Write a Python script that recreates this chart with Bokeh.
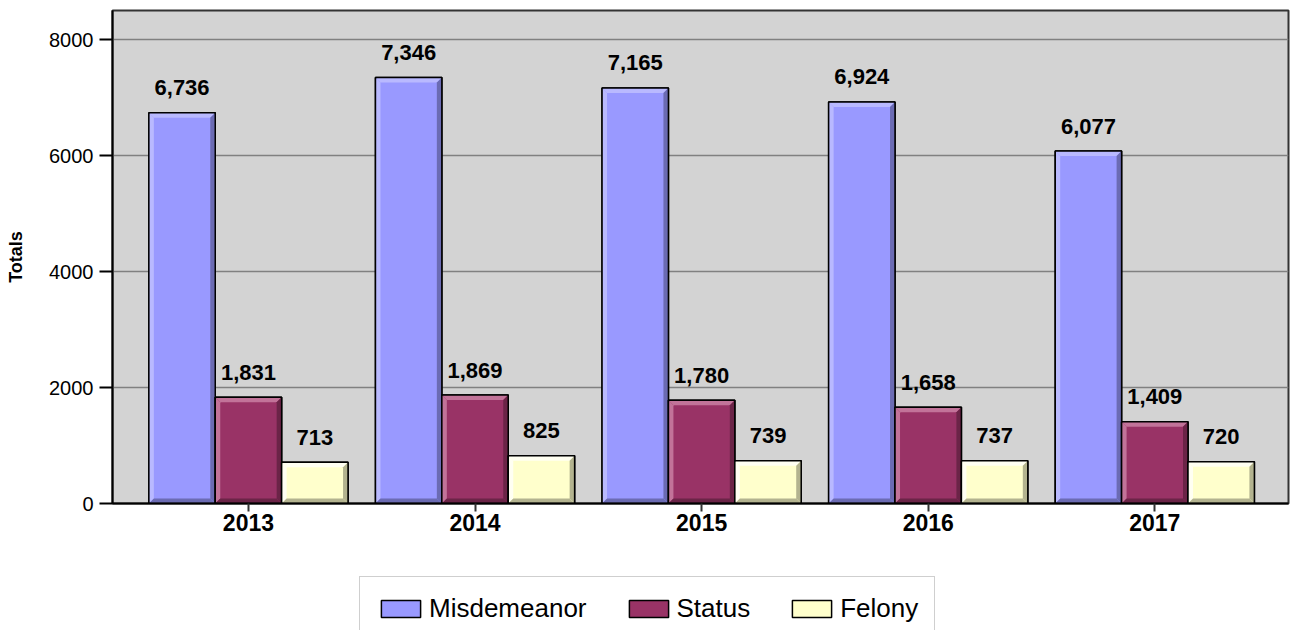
from bokeh.plotting import figure
from bokeh.layouts import column
from bokeh.models import (Range1d, FixedTicker, Legend, LegendItem, ColumnDataSource)
from bokeh.core.properties import value
from bokeh.embed import file_html
from bokeh.resources import INLINE

# ---- data ----
years = ["2013", "2014", "2015", "2016", "2017"]
misdemeanor = [6736, 7346, 7165, 6924, 6077]
status = [1831, 1869, 1780, 1658, 1409]
felony = [713, 825, 739, 737, 720]
series_names = ["Misdemeanor", "Status", "Felony"]
series_values = [misdemeanor, status, felony]
y_ticks = [0, 2000, 4000, 6000, 8000]

# ---- styles ----
colors = ["#9999FF", "#993366", "#FFFFCC"]
light = ["#B9B9FF", "#C27399", "#FFFFF2"]
dark = ["#6B6BB3", "#6B2447", "#B3B38F"]
FONT = "Liberation Sans"

W = 1290
H1, H2 = 575, 55
ML, MR, MT = 112, 2, 10
FW = W - ML - MR
FH = 493
MB = H1 - MT - FH
X0, X1 = -0.6, 4.59
Y0, Y1 = 0, 8500
bw = 0.293
offsets = [-bw, 0.0, bw]
bev = 5
dx = bev * (X1 - X0) / FW
dy = bev * (Y1 - Y0) / FH

p = figure(width=W, height=H1, output_backend="svg", toolbar_location=None,
           x_range=Range1d(X0, X1), y_range=Range1d(Y0, Y1),
           min_border_left=ML, min_border_right=MR, min_border_top=MT,
           min_border_bottom=MB)
p.background_fill_color = "#D3D3D3"
p.border_fill_color = "white"
p.outline_line_color = "#333333"
p.outline_line_width = 2

p.xgrid.visible = False
p.ygrid.grid_line_color = "#808080"
p.ygrid.grid_line_width = 1.5
p.ygrid.ticker = FixedTicker(ticks=y_ticks)

# axes
p.yaxis.ticker = FixedTicker(ticks=y_ticks)
p.yaxis.axis_label = "Totals"
p.yaxis.axis_label_text_font = FONT
p.yaxis.axis_label_text_font_style = "bold"
p.yaxis.axis_label_text_font_size = "18px"
p.yaxis.axis_label_text_color = "black"
p.yaxis.axis_label_standoff = 20
p.yaxis.major_label_text_font = FONT
p.yaxis.major_label_text_font_size = "20px"
p.yaxis.major_label_text_color = "black"
p.yaxis.major_tick_out = 13
p.yaxis.major_tick_in = 0
p.yaxis.minor_tick_out = 0
p.yaxis.minor_tick_in = 0
p.yaxis.major_label_standoff = 6
p.yaxis.major_tick_line_color = "black"
p.yaxis.major_tick_line_width = 2
p.yaxis.axis_line_color = "black"
p.yaxis.axis_line_width = 2

p.xaxis.ticker = FixedTicker(ticks=list(range(len(years))))
p.xaxis.major_label_overrides = {i: y for i, y in enumerate(years)}
p.xaxis.major_label_text_font = FONT
p.xaxis.major_label_text_font_style = "bold"
p.xaxis.major_label_text_font_size = "23px"
p.xaxis.major_label_text_color = "black"
p.xaxis.major_tick_out = 8
p.xaxis.major_tick_in = 0
p.xaxis.minor_tick_out = 0
p.xaxis.minor_tick_in = 0
p.xaxis.major_label_standoff = 2
p.xaxis.major_tick_line_color = "#333333"
p.xaxis.major_tick_line_width = 2
p.xaxis.axis_line_color = "black"
p.xaxis.axis_line_width = 2

# ---- legend strip below the chart ----
p2 = figure(width=W, height=H2, output_backend="svg", toolbar_location=None,
            x_range=Range1d(0, 1), y_range=Range1d(0, 1),
            min_border=0, min_border_left=0, min_border_right=0,
            min_border_top=0, min_border_bottom=0)
p2.axis.visible = False
p2.grid.visible = False
p2.outline_line_color = None
p2.background_fill_color = "white"
p2.border_fill_color = "white"
items = []

for s, (name, vals) in enumerate(zip(series_names, series_values)):
    xs = [i + offsets[s] for i in range(len(years))]
    L = [x - bw / 2 for x in xs]
    R = [x + bw / 2 for x in xs]
    T = list(vals)
    B = [0] * len(vals)
    p.quad(left=L, right=R, top=T, bottom=B, fill_color=colors[s],
           line_color="black", line_width=1.5)
    top_x, top_y, left_x, left_y, right_x, right_y, bot_x, bot_y = ([] for _ in range(8))
    for l, r, t, b in zip(L, R, T, B):
        top_x.append([l, r, r - dx, l + dx]); top_y.append([t, t, t - dy, t - dy])
        left_x.append([l, l, l + dx, l + dx]); left_y.append([b, t, t - dy, b + dy])
        right_x.append([r, r, r - dx, r - dx]); right_y.append([t, b, b + dy, t - dy])
        bot_x.append([l, r, r - dx, l + dx]); bot_y.append([b, b, b + dy, b + dy])
    p.patches(top_x, top_y, fill_color=light[s], line_color=None)
    p.patches(left_x, left_y, fill_color=light[s], line_color=None)
    p.patches(right_x, right_y, fill_color=dark[s], line_color=None)
    p.patches(bot_x, bot_y, fill_color=dark[s], line_color=None)
    p.quad(left=L, right=R, top=T, bottom=B, fill_color=None,
           line_color="black", line_width=1.5)
    src = ColumnDataSource(dict(x=xs, y=T, t=["{:,}".format(v) for v in vals]))
    p.text(x="x", y="y", text="t", source=src, text_align="center",
           text_baseline="alphabetic", y_offset=-25,
           text_font=value(FONT), text_font_style="bold",
           text_font_size="22px", text_color="black")
    # hidden copy of the series in the legend strip, used only for its swatch
    r2 = p2.quad(left=L, right=R, top=T, bottom=B, fill_color=colors[s],
                 line_color="black", line_width=1.5, visible=False)
    items.append(LegendItem(label=name, renderers=[r2]))

legend = Legend(items=items, orientation="horizontal",
                location=(247, -11), glyph_width=49, glyph_height=21,
                label_standoff=4, spacing=37, padding=16, margin=0,
                border_line_color="#A0A0A0", border_line_width=1.5,
                background_fill_color="white", background_fill_alpha=1,
                inactive_fill_alpha=0, click_policy="none",
                label_text_font=FONT, label_text_font_size="26px",
                label_text_color="black")
p2.add_layout(legend, "center")

layout = column(p, p2, spacing=0)
open("out.html", "w").write(file_html(layout, INLINE))
